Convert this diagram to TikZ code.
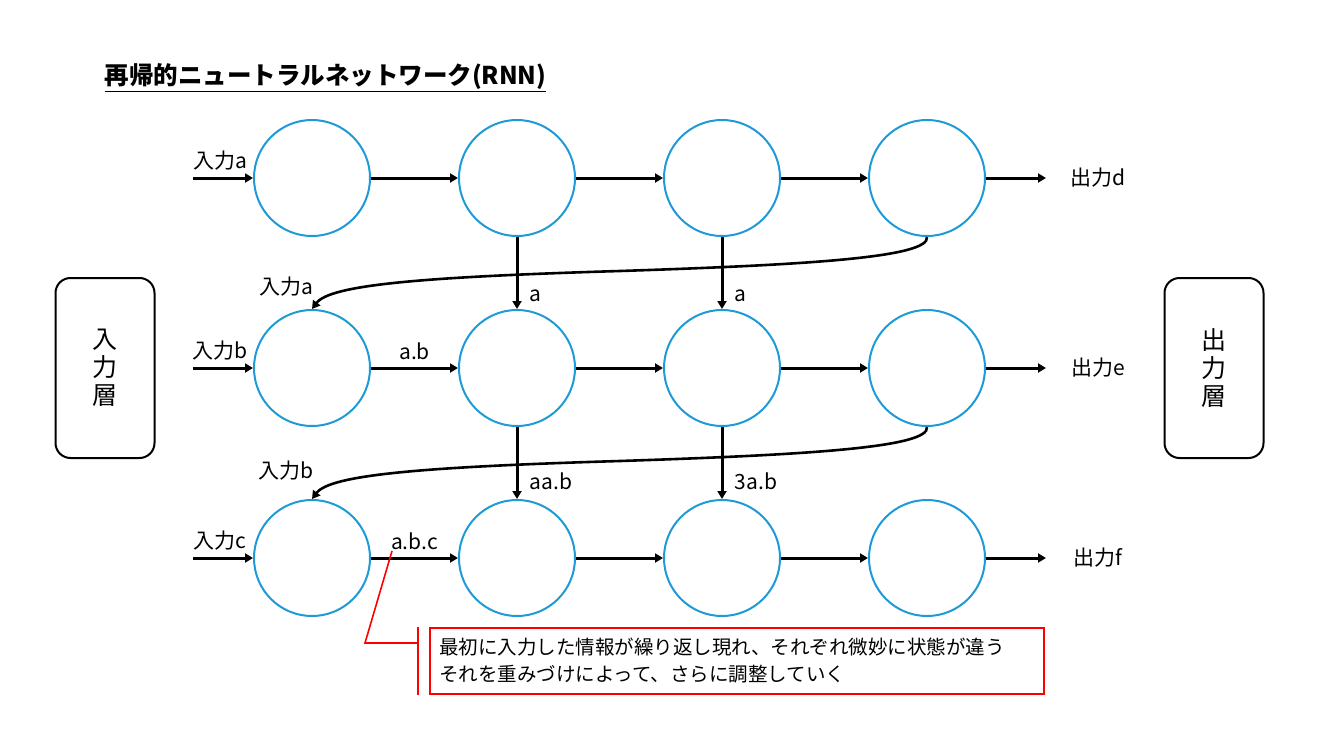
\documentclass[tikz,border=0pt]{standalone}
\usepackage{fontspec}
\setmainfont{Noto Sans CJK JP}
\usepackage{xcolor}
\usepackage{tikz}
\usetikzlibrary{shapes,arrows,arrows.meta}
\usetikzlibrary{positioning}
\definecolor{neuronblue}{RGB}{30,155,215}
\tikzstyle{neuron} = [circle, draw=neuronblue, line width=2pt,
    minimum size=116pt, inner sep=0pt]
\tikzstyle{layer} = [rectangle, draw, line width=2pt, rounded corners=15pt,
    minimum width=99pt, minimum height=180pt, align=center,
    font=\fontsize{25}{28}\selectfont]
\tikzstyle{line} = [draw, line width=3pt, -{Triangle[length=8pt, width=9pt]}]
\tikzstyle{curve} = [draw, line width=2.6pt, -{Triangle[length=8pt, width=9pt]}]
\tikzstyle{lbl} = [font=\fontsize{21}{25}\selectfont]
\tikzstyle{note} = [rectangle, draw=red, line width=2pt, minimum width=614pt,
    minimum height=66pt, text width=596pt, align=left,
    font=\fontsize{19.5}{27}\selectfont]
\tikzstyle{pointer} = [draw=red, line width=1.6pt]

\begin{document}
\begin{tikzpicture}[x=1pt, y=-1pt, node distance=205pt, auto]
  \useasboundingbox (0,0) rectangle (1318,736);

  % Title
  \node [anchor=west, font=\fontsize{24.5}{28}\selectfont\bfseries] (title) at (101,78)
    {\underline{再帰的ニュートラルネットワーク(RNN)}};

  % Place nodes
  \node [neuron] (top1) at (312,178) {};
  \node [neuron, right of=top1] (top2) {};
  \node [neuron, right of=top2] (top3) {};
  \node [neuron, right of=top3] (top4) {};
  \node [neuron, below of=top1, node distance=190pt] (mid1) {};
  \node [neuron, right of=mid1] (mid2) {};
  \node [neuron, right of=mid2] (mid3) {};
  \node [neuron, right of=mid3] (mid4) {};
  \node [neuron, below of=mid1, node distance=190pt] (bot1) {};
  \node [neuron, right of=bot1] (bot2) {};
  \node [neuron, right of=bot2] (bot3) {};
  \node [neuron, right of=bot3] (bot4) {};

  \node [layer] (inlayer) at (105,368) {入\\力\\層};
  \node [layer] (outlayer) at (1214,368) {出\\力\\層};

  \coordinate (inA) at (193,178);
  \coordinate (inB) at (193,368);
  \coordinate (inC) at (193,558);
  \coordinate (outD) at (1046,178);
  \coordinate (outE) at (1046,368);
  \coordinate (outF) at (1046,558);

  % Draw edges
  \path [line] (inA) -- node [lbl, yshift=3pt, pos=0.45] {入力a} (top1);
  \path [line] (inB) -- node [lbl, yshift=3pt, pos=0.45] {入力b} (mid1);
  \path [line] (inC) -- node [lbl, yshift=3pt, pos=0.45] {入力c} (bot1);

  \path [line] (top1) -- (top2);
  \path [line] (top2) -- (top3);
  \path [line] (top3) -- (top4);
  \path [line] (mid1) -- node [lbl, yshift=3pt] (ab) {a.b} (mid2);
  \path [line] (mid2) -- (mid3);
  \path [line] (mid3) -- (mid4);
  \path [line] (bot1) -- node [lbl, yshift=3pt] (abc) {a.b.c} (bot2);
  \path [line] (bot2) -- (bot3);
  \path [line] (bot3) -- (bot4);

  \path [line] (top4) -- (outD);
  \path [line] (mid4) -- (outE);
  \path [line] (bot4) -- (outF);
  \node [lbl] (outd) at (1098,178) {出力d};
  \node [lbl] (oute) at (1098,368) {出力e};
  \node [lbl] (outf) at (1098,558) {出力f};

  % Vertical links
  \path [line] (top2) -- node [lbl, pos=0.82, xshift=8pt] {a} (mid2);
  \path [line] (top3) -- node [lbl, pos=0.82, xshift=8pt] {a} (mid3);
  \path [line] (mid2) -- node [lbl, pos=0.76, xshift=8pt] {aa.b} (bot2);
  \path [line] (mid3) -- node [lbl, pos=0.76, xshift=8pt] {3a.b} (bot3);

  % Recurrent links
  \path [curve] (top4.south) .. controls (930,258) and (800,265) .. (620,271)
    .. controls (420,277) and (330,285) .. (mid1.north);
  \path [curve] (mid4.south) .. controls (930,448) and (800,455) .. (620,461)
    .. controls (420,467) and (330,475) .. (bot1.north);
  \node [lbl] (backa) at (286,287) {入力a};
  \node [lbl] (backb) at (286,471) {入力b};

  % Note
  \node [note] (memo) at (737,661)
    {最初に入力した情報が繰り返し現れ、それぞれ微妙に状態が違う\\
     それを重みづけによって、さらに調整していく};
  \coordinate (tip) at (392,551);
  \coordinate (knee) at (365,643);
  \coordinate (bartop) at (418,627);
  \coordinate (barbot) at (418,695);
  \path [pointer] (tip) -- (knee) -- (bartop |- knee);
  \path [pointer] (bartop) -- (barbot);
\end{tikzpicture}
\end{document}
